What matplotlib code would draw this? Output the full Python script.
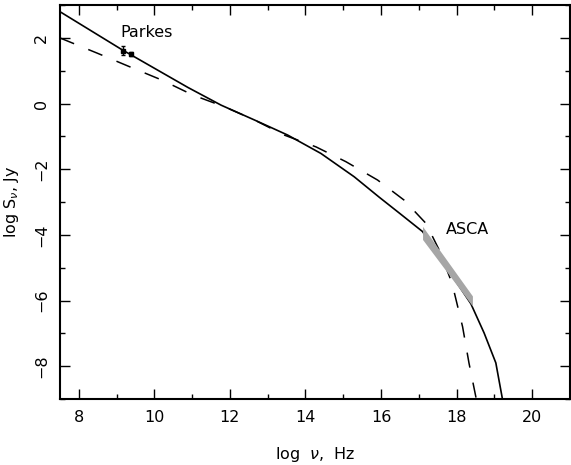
import matplotlib
matplotlib.use("Agg")
import matplotlib.pyplot as plt
from matplotlib.ticker import MultipleLocator

plt.rcParams['font.family'] = ['DejaVu Sans']
plt.rcParams['mathtext.fontset'] = 'dejavusans'

# Solid model curve
solid_x = [7.5, 9.13, 10.01, 10.89, 11.77, 12.65, 13.53, 14.41, 15.29, 15.95, 16.5, 17.1, 18.38, 18.73, 19.04, 19.21, 19.28]
solid_y = [2.80, 1.65, 1.07, 0.49, -0.05, -0.50, -0.96, -1.52, -2.23, -2.85, -3.35, -3.9, -6.1, -6.99, -7.9, -8.97, -9.3]

# Dashed model curve
dash_x = [7.5, 8.5, 9.35, 10.19, 11.02, 11.86, 12.65, 13.44, 14.28, 15.07, 15.91, 16.61, 17.19, 17.54, 17.88, 18.16, 18.33, 18.51, 18.56]
dash_y = [2.0, 1.53, 1.12, 0.72, 0.26, -0.10, -0.50, -0.96, -1.32, -1.77, -2.33, -2.94, -3.65, -4.46, -5.47, -6.8, -7.91, -8.93, -9.3]

# Parkes data
parkes_x = [9.16, 9.39]
parkes_y = [1.61, 1.51]
parkes_err = [0.13, 0.05]

# ASCA band
asca_x = [17.1, 18.42]
asca_hi = [-3.74, -5.86]
asca_lo = [-4.14, -6.17]

fig = plt.figure(figsize=(5.71, 4.65), dpi=100)
ax = fig.add_axes([0.105, 0.142, 0.893, 0.847])

ax.fill_between(asca_x, asca_lo, asca_hi, color='#a6a6a6', lw=0, zorder=3)
ax.plot(solid_x, solid_y, color='black', lw=1.2, zorder=2)
ax.plot(dash_x, dash_y, color='black', lw=1.1, dashes=(10, 10), zorder=2)
ax.errorbar(parkes_x, parkes_y, yerr=parkes_err, fmt='s', color='black', ms=3.5,
            capsize=1.5, elinewidth=1, zorder=4)

ax.text(9.78, 2.17, 'Parkes', ha='center', va='center', fontsize=11.5)
ax.text(18.3, -3.85, 'ASCA', ha='center', va='center', fontsize=11.5)

ax.set_xlim(7.5, 21)
ax.set_ylim(-9, 3)
ax.xaxis.set_major_locator(MultipleLocator(2))
ax.xaxis.set_minor_locator(MultipleLocator(1))
ax.yaxis.set_major_locator(MultipleLocator(2))
ax.yaxis.set_minor_locator(MultipleLocator(1))
ax.tick_params(which='both', direction='in', top=True, right=True, width=1)
ax.tick_params(which='major', length=7, labelsize=11.5, pad=8)
ax.tick_params(which='minor', length=3.5)
for lbl in ax.get_yticklabels():
    lbl.set_rotation(90)
    lbl.set_va('center')
for s in ax.spines.values():
    s.set_linewidth(1.5)

ax.set_xlabel(r'log  $\nu$,  Hz', fontsize=11.5, labelpad=14)
ax.set_ylabel(r'log S$_\nu$, Jy', fontsize=11.5, labelpad=9)

fig.savefig('out.png', dpi=100)
